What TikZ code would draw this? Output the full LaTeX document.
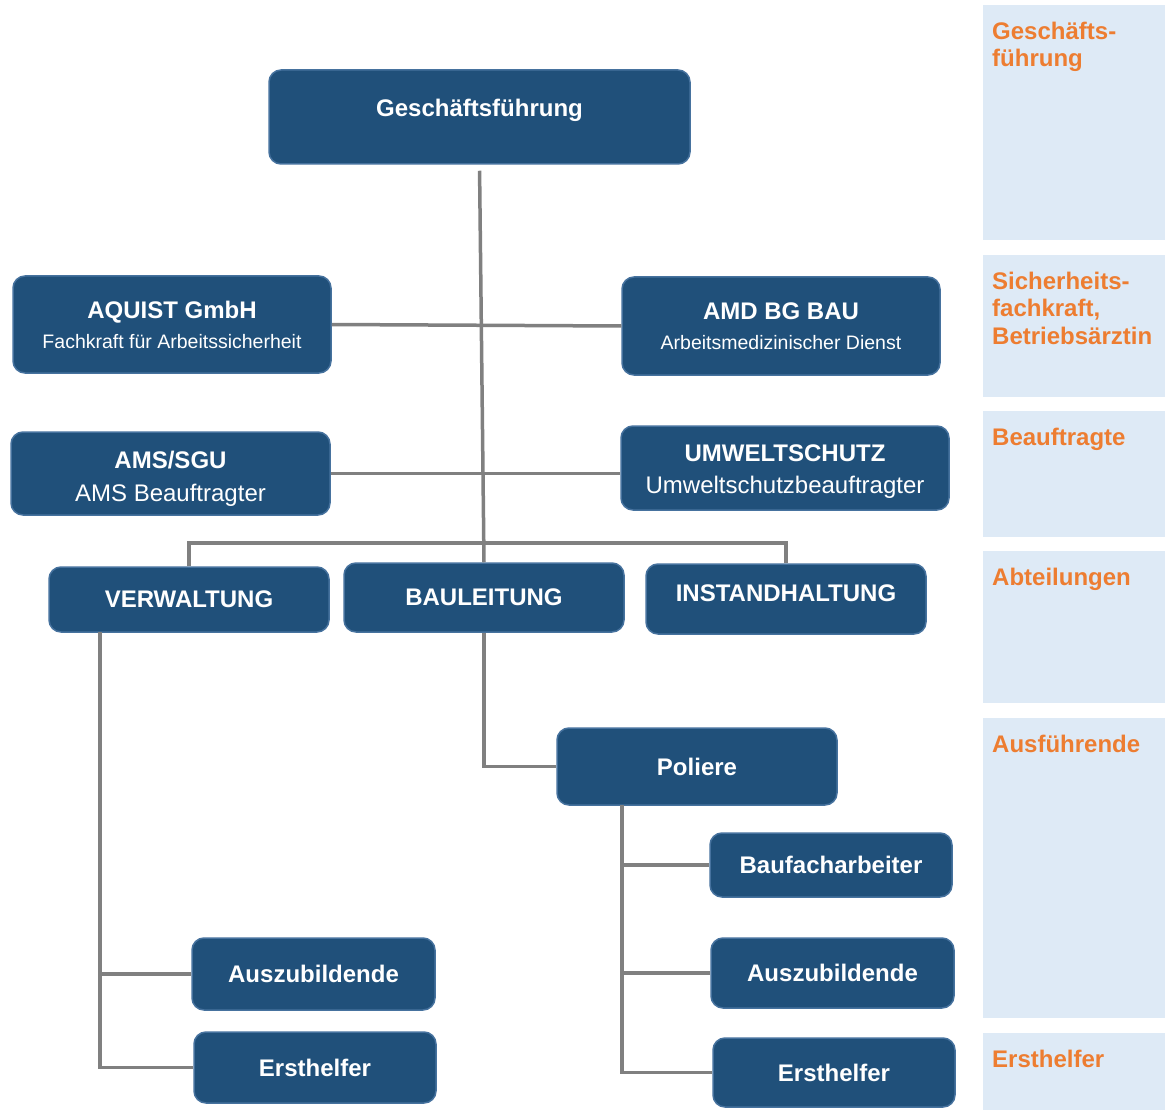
\documentclass[tikz,border=0pt]{standalone}
\usepackage{fontspec}
\setmainfont{Liberation Sans}
\usetikzlibrary{positioning,calc}
\definecolor{boxblue}{RGB}{32,80,122}
\definecolor{boxedge}{RGB}{70,114,158}
\definecolor{linegray}{RGB}{128,128,128}
\definecolor{bandblue}{RGB}{222,234,246}
\definecolor{levelorange}{RGB}{237,125,49}

\begin{document}
\begin{tikzpicture}[x=1pt, y=-1pt,
    orgbox/.style={draw=boxedge, line width=1.5pt, fill=boxblue, rounded corners=12pt,
        text=white, align=center, inner sep=0pt,
        font=\fontsize{24}{28}\selectfont\bfseries},
    subbox/.style={orgbox, font=\fontsize{19.5}{30}\selectfont},
    conn/.style={draw=linegray, line width=3.5pt},
    levellabel/.style={anchor=north west, inner sep=0pt, align=left,
        text=levelorange, font=\fontsize{24}{27.5}\selectfont\bfseries}]
    \useasboundingbox (0,0) rectangle (1165,1110);

    % Levels on the right
    \foreach \name/\top/\bot/\txt in {lgf/5/240/{Geschäfts-\\führung},
        lsi/255/397/{Sicherheits-\\fachkraft,\\Betriebsärztin},
        lbe/411/537/{Beauftragte}, lab/551/703/{Abteilungen},
        lau/718/1018/{Ausführende}, ler/1033/1110/{Ersthelfer}} {
        \fill[bandblue] (983,\top) rectangle (1165,\bot);
        \node[levellabel] (\name) at (992,\top+16.5) {\txt};
    }

    % Management
    \node[orgbox, minimum width=421pt, minimum height=94pt, text depth=18pt] (gf) at (479.5,117) {Geschäftsführung};

    % Safety staff and officers
    \node[subbox, minimum width=318pt, minimum height=97pt] (aquist) at (172,324.5)
        {{\fontsize{24}{30}\selectfont\bfseries AQUIST GmbH}\\Fachkraft für Arbeitssicherheit};
    \node[subbox, minimum width=318pt, minimum height=98pt] (amd) at (781,326)
        {{\fontsize{24}{30}\selectfont\bfseries AMD BG BAU}\\Arbeitsmedizinischer Dienst};
    \node[subbox, minimum width=319pt, minimum height=83pt, text height=56pt, text depth=0pt,
        font=\fontsize{24}{33}\selectfont] (ams) at (170.5,473.5)
        {{\bfseries AMS/SGU}\\AMS Beauftragter};
    \node[subbox, minimum width=328pt, minimum height=84pt, text height=51pt, text depth=0pt,
        font=\fontsize{24}{32}\selectfont] (umw) at (785,468)
        {{\bfseries UMWELTSCHUTZ}\\Umweltschutzbeauftragter};

    % Departments and staff
    \foreach \name/\x/\y/\w/\h/\txt in {verw/189/599.5/280/65/VERWALTUNG, bau/484/597.5/280/69/BAULEITUNG,
        pol/697/766.5/280/77/Poliere, bfa/831/865/242/64/Baufacharbeiter,
        azr/832.5/973/243/70/Auszubildende, ehr/834/1072.5/242/69/Ersthelfer,
        azl/313.5/974/243/72/Auszubildende, ehl/315/1067.5/242/71/Ersthelfer} {
        \node[orgbox, minimum width=\w pt, minimum height=\h pt] (\name) at (\x,\y) {\txt};
    }
    \node[orgbox, minimum width=280pt, minimum height=70pt, text depth=12pt] (inst) at (786,599) {INSTANDHALTUNG};

    % Connectors
    \coordinate (bar) at (484,543);
    \coordinate (vtop) at (100,632);
    \coordinate (ptop) at (622,805);
    \draw[conn, shorten <=6pt] (gf.south) -- (bau.north);
    \draw[conn] (aquist.east) -- (amd.west);
    \draw[conn] (ams.east) -- (ams.east -| umw.west);
    \draw[conn] (verw.north) |- (bar) -| (inst.north);
    \draw[conn] (vtop) |- (azl.west);
    \draw[conn] (vtop) |- (ehl.west);
    \draw[conn] (bau.south) |- (pol.west);
    \foreach \kid in {bfa, azr, ehr}
        \draw[conn] (ptop) |- (\kid.west);

\end{tikzpicture}
\end{document}
